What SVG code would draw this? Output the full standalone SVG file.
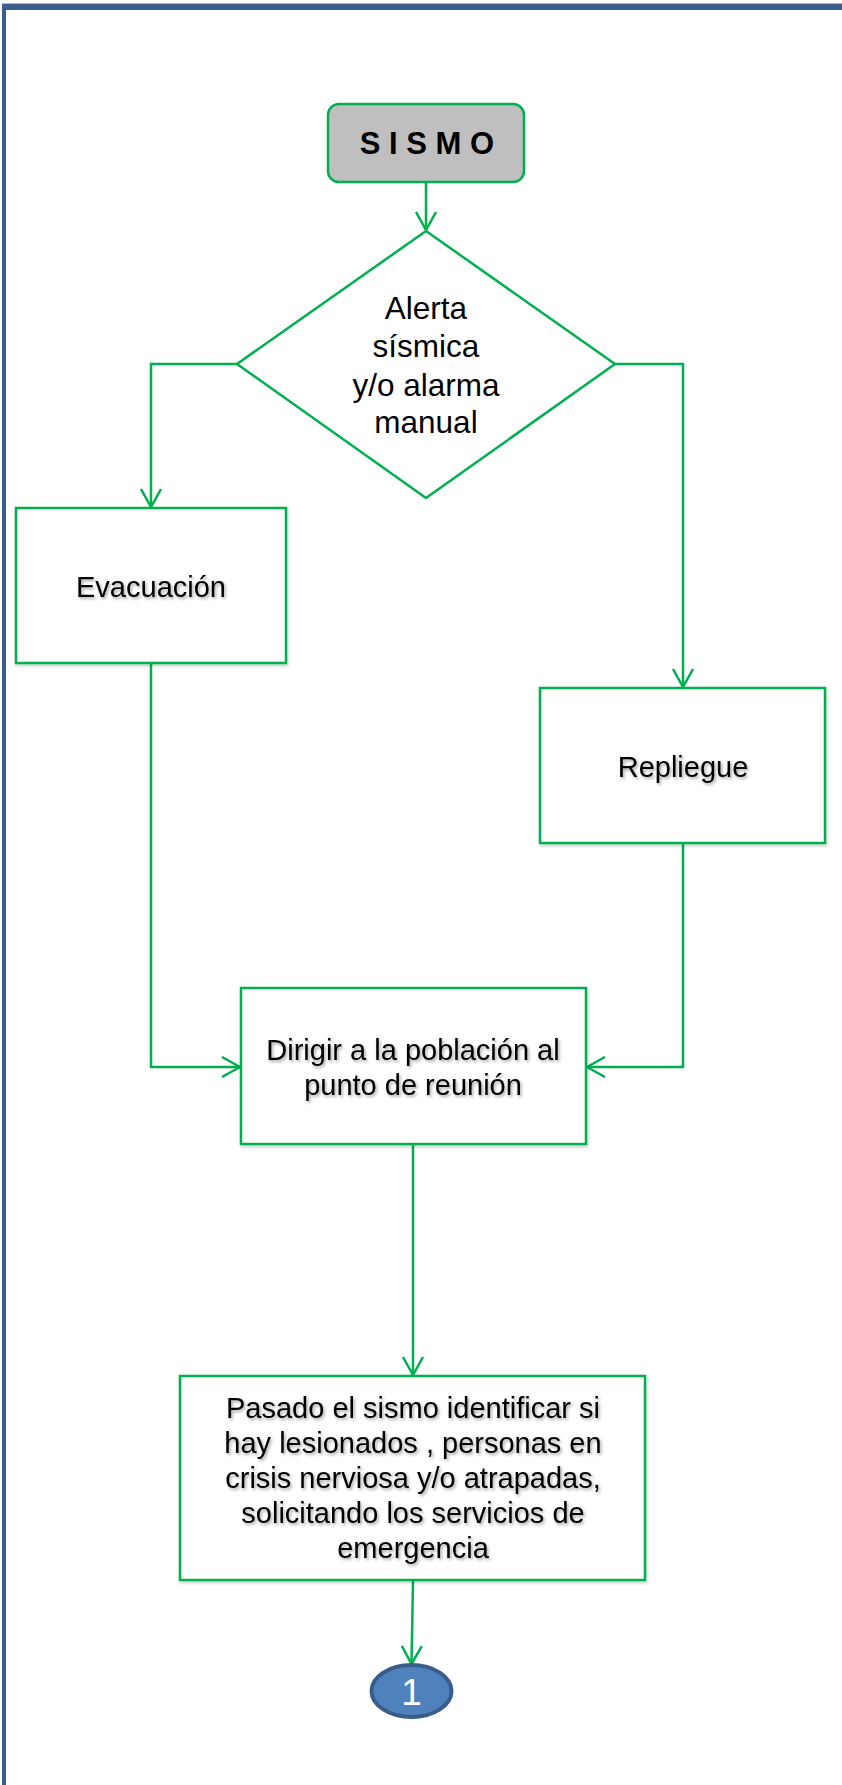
<svg xmlns="http://www.w3.org/2000/svg" width="842" height="1785" viewBox="0 0 842 1785">
<defs>
<style>
.box{fill:#FFFFFF;stroke:#00B050;stroke-width:2.5;filter:url(#bs)}
.line{fill:none;stroke:#00B050;stroke-width:2.5}
.t{font-family:"Liberation Sans",Arial,sans-serif;font-size:29px;fill:#000;text-anchor:middle;filter:url(#ts)}
.d{font-family:"Liberation Sans",Arial,sans-serif;font-size:31.5px;fill:#000;text-anchor:middle}
</style>
<filter id="ts" x="-10%" y="-30%" width="120%" height="160%">
<feDropShadow dx="1.5" dy="2" stdDeviation="1.5" flood-color="#000" flood-opacity="0.35"/>
</filter>
<filter id="bs" x="-5%" y="-5%" width="110%" height="115%">
<feDropShadow dx="1" dy="2" stdDeviation="1.5" flood-color="#000" flood-opacity="0.2"/>
</filter>
<marker id="arr" viewBox="0 0 20 22" refX="19" refY="11" markerWidth="20" markerHeight="22" markerUnits="userSpaceOnUse" orient="auto">
<path d="M1 1 L19 11 L1 21" fill="none" stroke="#00B050" stroke-width="2.5"/>
</marker>
</defs>
<rect x="0" y="0" width="842" height="1785" fill="#FFFFFF"/>
<g id="frame">
<rect x="2" y="3" width="840" height="1.5" fill="#A9BCD6"/>
<rect x="2" y="4" width="840" height="6" fill="#3B5E8C"/>
<rect x="2" y="4" width="4" height="1781" fill="#3B5E8C"/>
</g>
<g id="connectors">
<line class="line" x1="426" y1="182" x2="426" y2="230" marker-end="url(#arr)"/>
<polyline class="line" points="237,364 151,364 151,507" marker-end="url(#arr)"/>
<polyline class="line" points="615,364 683,364 683,687" marker-end="url(#arr)"/>
<polyline class="line" points="151,663 151,1067 240,1067" marker-end="url(#arr)"/>
<polyline class="line" points="683,843 683,1067 587,1067" marker-end="url(#arr)"/>
<line class="line" x1="413" y1="1144" x2="413" y2="1375" marker-end="url(#arr)"/>
<line class="line" x1="413" y1="1580" x2="411.5" y2="1664" marker-end="url(#arr)"/>
</g>
<g id="sismo">
<rect x="328" y="104" width="196" height="78" rx="11" ry="11" fill="#BFBFBF" stroke="#00B050" stroke-width="2.5"/>
<text x="427" y="154" font-family="'Liberation Sans',Arial,sans-serif" font-size="31" font-weight="bold" text-anchor="middle" fill="#000">S I S M O</text>
</g>
<g id="alerta">
<polygon points="426,231 615,364 426,498 237,364" fill="#FFFFFF" stroke="#00B050" stroke-width="2.5"/>
<text class="d" x="426" y="319">Alerta</text>
<text class="d" x="426" y="357">sísmica</text>
<text class="d" x="426" y="396">y/o alarma</text>
<text class="d" x="426" y="433">manual</text>
</g>
<g id="evacuacion">
<rect class="box" x="16" y="508" width="270" height="155"/>
<text class="t" x="151" y="597">Evacuación</text>
</g>
<g id="repliegue">
<rect class="box" x="540" y="688" width="285" height="155"/>
<text class="t" x="683" y="777">Repliegue</text>
</g>
<g id="dirigir">
<rect class="box" x="241" y="988" width="345" height="156"/>
<text class="t" x="413" y="1060">Dirigir a la población al</text>
<text class="t" x="413" y="1095">punto de reunión</text>
</g>
<g id="pasado">
<rect class="box" x="180" y="1376" width="465" height="204"/>
<text class="t" x="413" y="1418">Pasado el sismo identificar si</text>
<text class="t" x="413" y="1453">hay lesionados , personas en</text>
<text class="t" x="413" y="1488">crisis nerviosa y/o atrapadas,</text>
<text class="t" x="413" y="1523">solicitando los servicios de</text>
<text class="t" x="413" y="1558">emergencia</text>
</g>
<g id="conector1">
<ellipse cx="411.5" cy="1691" rx="40" ry="26" fill="#4F81BD" stroke="#385D8A" stroke-width="4"/>
<text x="411.5" y="1705" font-family="'Liberation Sans',Arial,sans-serif" font-size="37" text-anchor="middle" fill="#FFFFFF">1</text>
</g>
</svg>
